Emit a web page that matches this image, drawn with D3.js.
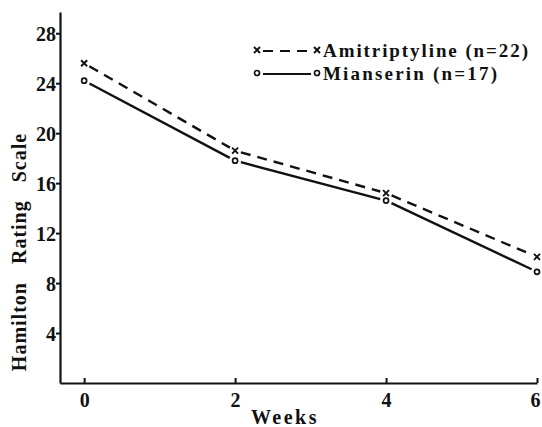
<!DOCTYPE html>
<html>
<head>
<meta charset="utf-8">
<script src="https://cdn.jsdelivr.net/npm/d3@7"></script>
<style>
  body { margin: 0; background: #fff; }
  svg { display: block; font-family: "Liberation Serif", "DejaVu Serif", serif; font-weight: bold; }
</style>
</head>
<body>
<svg id="chart" width="542" height="427"></svg>
<script>
// data
const weeks = [0, 2, 4, 6];
const amitriptyline = [25.6, 18.6, 15.2, 10.1];
const mianserin = [24.2, 17.8, 14.6, 8.9];
const yTicks = [4, 8, 12, 16, 20, 24, 28];
const xTicks = [0, 2, 4, 6];
const seriesNames = ["Amitriptyline (n=22)", "Mianserin (n=17)"];

const ink = "#111";
const svg = d3.select("#chart");

const x = d3.scaleLinear().domain([-0.32, 6]).range([60, 537]);
const y = d3.scaleLinear().domain([0, 29.7]).range([383, 12]);

// axes
const yAxis = svg.append("g")
    .attr("transform", "translate(60,0)")
    .call(d3.axisLeft(y).tickValues(yTicks).tickFormat(d3.format("d"))
        .tickSize(4).tickSizeOuter(0));
const xAxis = svg.append("g")
    .attr("transform", "translate(0,383)")
    .call(d3.axisBottom(x).tickValues(xTicks).tickFormat(d3.format("d"))
        .tickSize(-5).tickSizeOuter(0));

[yAxis, xAxis].forEach(g => {
    g.select(".domain").attr("stroke", ink).attr("stroke-width", 2.2);
    g.selectAll(".tick line").attr("stroke", ink).attr("stroke-width", 2);
    g.selectAll("text").attr("fill", ink)
        .style("font-family", "Liberation Serif, serif")
        .style("font-weight", "bold")
        .style("font-size", "20px");
});
yAxis.selectAll("text").attr("x", -4).attr("dy", "0.36em");
xAxis.selectAll("text").attr("y", 6).attr("dy", "0.9em");
// keep the last label inside the frame
xAxis.selectAll(".tick text").filter(d => d === 6).attr("x", -2);

// axis titles
svg.append("text")
    .attr("x", 285).attr("y", 424)
    .attr("text-anchor", "middle")
    .attr("font-size", 20).attr("letter-spacing", 2.5)
    .attr("fill", ink)
    .text("Weeks");

svg.append("text")
    .attr("transform", "translate(26,252) rotate(-90)")
    .attr("text-anchor", "middle")
    .attr("font-size", 20)
    .attr("letter-spacing", 1)
    .attr("word-spacing", 12)
    .attr("fill", ink)
    .text("Hamilton Rating Scale");

// markers
function drawX(g, cx, cy) {
    const s = 3;
    g.append("path")
        .attr("d", `M${cx - s},${cy - s}L${cx + s},${cy + s}M${cx - s},${cy + s}L${cx + s},${cy - s}`)
        .attr("stroke", ink).attr("stroke-width", 1.9);
}
function drawO(g, cx, cy) {
    g.append("circle").attr("cx", cx).attr("cy", cy).attr("r", 2.5)
        .attr("fill", "#fff").attr("stroke", ink).attr("stroke-width", 1.7);
}

// segments with a small gap at each marker
function drawSeries(values, dash, marker) {
    const g = svg.append("g");
    const pts = weeks.map((w, i) => [x(w), y(values[i])]);
    for (let i = 0; i < pts.length - 1; i++) {
        const [x1, y1] = pts[i], [x2, y2] = pts[i + 1];
        const len = Math.hypot(x2 - x1, y2 - y1);
        const ux = (x2 - x1) / len, uy = (y2 - y1) / len;
        const gap = 6;
        g.append("line")
            .attr("x1", x1 + ux * gap).attr("y1", y1 + uy * gap)
            .attr("x2", x2 - ux * gap).attr("y2", y2 - uy * gap)
            .attr("stroke", ink).attr("stroke-width", 2.4)
            .attr("stroke-dasharray", dash);
    }
    pts.forEach(([px, py]) => marker(g, px, py));
}

drawSeries(amitriptyline, "10,7", drawX);
drawSeries(mianserin, null, drawO);

// legend
const legend = svg.append("g");
const rows = [
    { name: seriesNames[0], y: 50, dash: "10,7", marker: drawX, len: 205 },
    { name: seriesNames[1], y: 73, dash: null, marker: drawO, len: 174 }
];
rows.forEach(r => {
    r.marker(legend, 257, r.y);
    r.marker(legend, 317, r.y);
    legend.append("line")
        .attr("x1", 263).attr("x2", 311)
        .attr("y1", r.y + 1).attr("y2", r.y + 1)
        .attr("stroke", ink).attr("stroke-width", 2.2)
        .attr("stroke-dasharray", r.dash);
    legend.append("text")
        .attr("x", 323).attr("y", r.y + 7)
        .attr("font-size", 19)
        .attr("textLength", r.len).attr("lengthAdjust", "spacing")
        .attr("fill", ink)
        .text(r.name);
});
</script>
</body>
</html>
